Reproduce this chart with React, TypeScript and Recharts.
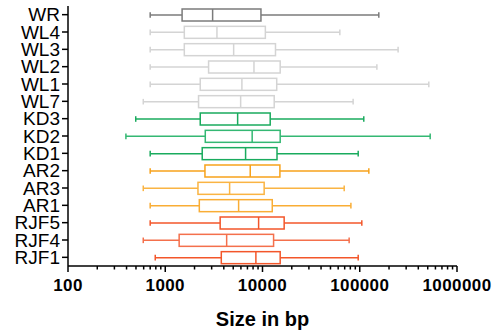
import { ComposedChart, Bar, XAxis, YAxis } from "recharts";

const categories = ["WR", "WL4", "WL3", "WL2", "WL1", "WL7", "KD3", "KD2", "KD1", "AR2", "AR3", "AR1", "RJF5", "RJF4", "RJF1"];
const mins = [700, 700, 700, 700, 700, 594, 497, 394, 700, 700, 594, 700, 700, 594, 789];
const q1s = [1490, 1570, 1570, 2790, 2290, 2200, 2290, 2580, 2400, 2560, 2170, 2240, 3670, 1390, 3770];
const medians = [3070, 3400, 5050, 8170, 6140, 5960, 5550, 7830, 6700, 7480, 4590, 5680, 9120, 4280, 8550];
const q3s = [9640, 10700, 13600, 15200, 14000, 13200, 12000, 15200, 14100, 15100, 10400, 12600, 16700, 13000, 15200];
const maxs = [157000, 62400, 248000, 150000, 513000, 85500, 110000, 530000, 96400, 124000, 69200, 81100, 105000, 77800, 96400];

const majorTicks = [100, 1000, 10000, 100000, 1000000];
const minorSteps = [2, 3, 4, 5, 6, 7, 8, 9];

// colours per row (groups: WR, WL, KD, AR, RJF)
const rowColors = [
  "#7b7b7b",
  "#d4d4d4", "#d4d4d4", "#d4d4d4", "#d4d4d4", "#d4d4d4",
  "#1aab5e", "#34b873", "#1aab5e",
  "#f7a21b", "#fab443", "#f9ad35",
  "#f3562a", "#f4704c", "#f3562a",
];

const FONT = "'Liberation Sans', Arial, Helvetica, sans-serif";

const data = categories.map((name, i) => ({
  name,
  min: mins[i],
  q1: q1s[i],
  median: medians[i],
  q3: q3s[i],
  max: maxs[i],
}));

const allTicks = [
  ...majorTicks,
  ...majorTicks.slice(0, -1).flatMap((m) => minorSteps.map((s) => m * s)),
].sort((a, b) => a - b);

const BoxShape = (props: any) => {
  const { x, y, width, height, index } = props;
  const d = props.payload ?? props;
  const color = rowColors[index] ?? "#999";
  const lo = Math.log10(d.min);
  const hi = Math.log10(d.max);
  // position along the log axis, from the bar's own pixel extent
  const px = (v: number) => x + (width * (Math.log10(v) - lo)) / (hi - lo);
  const cy = y + height / 2;
  const xq1 = px(d.q1);
  const xq3 = px(d.q3);
  const xm = px(d.median);
  const cap = 2.8;
  return (
    <g stroke={color} strokeWidth={1.5} fill="none">
      <line x1={x} x2={xq1} y1={cy} y2={cy} />
      <line x1={xq3} x2={x + width} y1={cy} y2={cy} />
      <line x1={x} x2={x} y1={cy - cap} y2={cy + cap} />
      <line x1={x + width} x2={x + width} y1={cy - cap} y2={cy + cap} />
      <rect x={xq1} y={y} width={xq3 - xq1} height={height} fill="#fff" />
      <line x1={xm} x2={xm} y1={y} y2={y + height} />
    </g>
  );
};

const XTick = (props: any) => {
  const { x, y, payload } = props;
  const major = majorTicks.includes(payload.value);
  return (
    <g>
      <line x1={x} x2={x} y1={y} y2={y + (major ? 6 : 3.5)} stroke="#000" strokeWidth={1.5} />
      {major && (
        <text x={x} y={y + 24.5} textAnchor="middle" fontFamily={FONT} fontWeight="bold" fontSize={17} letterSpacing={0.4} fill="#000">
          {payload.value}
        </text>
      )}
    </g>
  );
};

export default function App() {
  return (
    <div style={{ position: "absolute", left: 0, top: 0, background: "#fff" }}>
      <ComposedChart
        width={497}
        height={334}
        data={data}
        layout="vertical"
        margin={{ top: 6, right: 40, bottom: 0, left: 0 }}
      >
        <XAxis
          type="number"
          scale="log"
          domain={[100, 1000000]}
          allowDataOverflow
          ticks={allTicks}
          interval={0}
          tick={<XTick />}
          tickSize={0}
          tickMargin={0}
          tickLine={false}
          axisLine={{ stroke: "#000", strokeWidth: 1.5 }}
          height={68}
          label={{
            value: "Size in bp",
            position: "insideBottom",
            offset: 8,
            style: { fontFamily: FONT, fontWeight: "bold", fontSize: 20, fill: "#000" },
          }}
        />
        <YAxis
          type="category"
          dataKey="name"
          width={68}
          interval={0}
          tickSize={6}
          tickMargin={2}
          tick={{ fontSize: 19, fill: "#000", fontFamily: FONT }}
          tickLine={{ stroke: "#000", strokeWidth: 1.5 }}
          axisLine={{ stroke: "#000", strokeWidth: 1.5 }}
        />
        <Bar
          dataKey={(d: any) => [d.min, d.max]}
          barSize={12}
          shape={<BoxShape />}
          isAnimationActive={false}
        />
      </ComposedChart>
    </div>
  );
}
